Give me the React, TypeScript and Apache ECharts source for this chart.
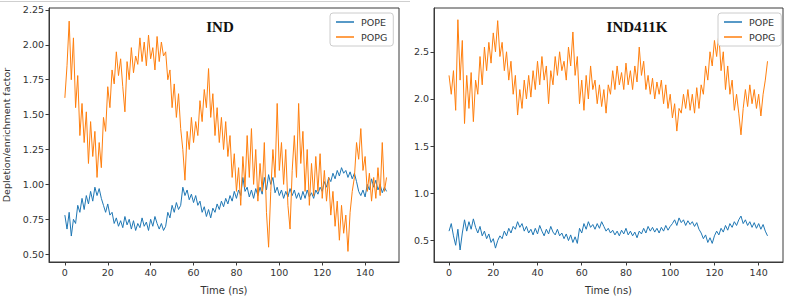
import React, { useEffect, useRef } from "react";
import * as echarts from "echarts";

// Time step 1 ns per sample (index = time in ns)
const panelTitles = ["IND", "IND411K"];
const seriesNames = ["POPE", "POPG"];
const xTicks = [0, 20, 40, 60, 80, 100, 120, 140];
const yTicksLeft = [0.5, 0.75, 1.0, 1.25, 1.5, 1.75, 2.0, 2.25];
const yTicksRight = [0.5, 1.0, 1.5, 2.0, 2.5];

const popeIND = [
  0.78, 0.68, 0.80, 0.63, 0.75, 0.72, 0.85, 0.80, 0.90, 0.82, 0.92, 0.86, 0.95, 0.88, 0.98, 0.92, 0.97, 0.90, 0.85, 0.80,
  0.86, 0.78, 0.80, 0.72, 0.76, 0.70, 0.74, 0.69, 0.77, 0.71, 0.75, 0.68, 0.74, 0.67, 0.72, 0.69, 0.76, 0.70, 0.73, 0.67,
  0.75, 0.70, 0.77, 0.72, 0.68, 0.72, 0.67, 0.70, 0.80, 0.76, 0.85, 0.80, 0.87, 0.82, 0.85, 0.98, 0.92, 0.96, 0.89, 0.93,
  0.87, 0.92, 0.85, 0.88, 0.80, 0.84, 0.77, 0.82, 0.76, 0.83, 0.80, 0.86, 0.82, 0.88, 0.84, 0.90, 0.86, 0.92, 0.88, 0.95,
  0.90, 0.96, 0.92, 1.05, 0.95, 0.98, 0.91, 0.96, 0.90, 0.97, 0.92, 0.98, 0.93, 1.05, 0.96, 1.07, 1.00, 1.05, 0.94, 0.98,
  0.92, 0.96, 0.90, 0.95, 0.91, 0.97, 0.92, 0.96, 0.90, 0.94, 0.89, 0.95, 0.90, 0.96, 0.91, 0.94, 0.90, 0.96, 0.93, 0.98,
  0.95, 1.02, 0.98, 1.05, 1.02, 1.08, 1.04, 1.10, 1.06, 1.12, 1.08, 1.10, 1.05, 1.09, 1.04, 1.08, 1.02, 0.95, 0.92, 0.96,
  0.91, 1.00, 0.96, 1.04, 0.98, 1.03, 0.96, 1.00, 0.94, 0.98, 0.95,
];

const popgIND = [
  1.62, 1.85, 2.17, 1.75, 2.05, 1.55, 1.78, 1.35, 1.58, 1.30, 1.52, 1.15, 1.45, 1.20, 1.38, 1.05, 1.30, 1.12, 1.48, 1.38,
  1.70, 1.55, 1.82, 1.72, 1.95, 1.78, 1.90, 1.70, 1.52, 1.88, 1.75, 1.98, 1.80, 1.92, 1.86, 2.05, 1.88, 2.02, 1.85, 2.07,
  1.90, 1.98, 1.82, 2.06, 1.88, 2.02, 1.92, 1.95, 1.75, 1.82, 1.55, 1.72, 1.48, 1.65, 1.40, 1.25, 1.03, 1.38, 1.25, 1.48,
  1.30, 1.45, 1.35, 1.60, 1.45, 1.68, 1.55, 1.83, 1.48, 1.65, 1.35, 1.55, 1.30, 1.48, 1.25, 1.45, 1.20, 1.35, 1.05, 1.22,
  0.95, 1.12, 0.85, 1.20, 0.98, 1.35, 1.05, 1.40, 1.00, 1.25, 0.88, 1.15, 0.95, 1.30, 0.80, 0.55, 0.95, 1.25, 1.05, 1.58,
  1.10, 1.30, 1.00, 1.25, 0.85, 0.68, 1.10, 1.35, 1.05, 1.58, 1.15, 1.38, 0.95, 1.25, 0.85, 1.15, 0.92, 1.20, 0.95, 1.22,
  0.90, 1.10, 0.88, 1.05, 0.78, 0.95, 0.70, 0.88, 0.60, 0.85, 0.65, 0.78, 0.52, 0.80, 0.95, 1.05, 1.30, 1.18, 1.40, 1.10,
  1.20, 0.95, 1.08, 0.88, 1.05, 0.90, 1.12, 0.92, 1.30, 0.95, 1.05,
];

const popeK = [
  0.60, 0.68, 0.55, 0.45, 0.62, 0.40, 0.58, 0.72, 0.60, 0.70, 0.62, 0.73, 0.64, 0.58, 0.65, 0.55, 0.60, 0.52, 0.57, 0.48,
  0.52, 0.42, 0.50, 0.55, 0.52, 0.60, 0.55, 0.63, 0.58, 0.65, 0.62, 0.70, 0.64, 0.68, 0.60, 0.65, 0.58, 0.62, 0.56, 0.63,
  0.57, 0.66, 0.60, 0.55, 0.62, 0.57, 0.65, 0.59, 0.56, 0.62, 0.55, 0.58, 0.52, 0.57, 0.50, 0.56, 0.48, 0.54, 0.47, 0.63,
  0.58, 0.68, 0.62, 0.70, 0.64, 0.67, 0.62, 0.68, 0.63, 0.70, 0.65, 0.60, 0.63, 0.58, 0.61, 0.56, 0.60, 0.55, 0.61, 0.57,
  0.63, 0.56, 0.60, 0.55, 0.59, 0.53, 0.60, 0.57, 0.63, 0.58, 0.65, 0.60, 0.64, 0.59, 0.63, 0.58, 0.64, 0.60, 0.66, 0.61,
  0.65, 0.68, 0.72, 0.66, 0.74, 0.69, 0.72, 0.66, 0.71, 0.67, 0.70, 0.65, 0.69, 0.62, 0.58, 0.52, 0.56, 0.48, 0.53, 0.47,
  0.55, 0.60, 0.56, 0.63, 0.59, 0.66, 0.61, 0.68, 0.64, 0.70, 0.66, 0.72, 0.76, 0.68, 0.72, 0.66, 0.70, 0.64, 0.69, 0.63,
  0.68, 0.62, 0.67, 0.60, 0.55,
];

const popgK = [
  2.25, 2.05, 2.30, 1.88, 2.84, 2.20, 2.62, 1.74, 2.25, 1.90, 2.28, 1.76, 2.20, 2.05, 2.45, 2.15, 2.55, 2.30, 2.60, 2.38,
  2.70, 2.50, 2.83, 2.45, 2.60, 2.30, 2.50, 2.20, 2.40, 2.05, 2.25, 1.83, 2.10, 1.90, 2.20, 2.00, 2.25, 2.02, 2.30, 2.10,
  2.40, 2.15, 2.45, 2.20, 2.35, 1.95, 2.30, 2.15, 2.45, 2.25, 2.50, 2.30, 2.40, 2.20, 2.55, 2.35, 2.71, 2.25, 2.45, 1.95,
  2.20, 1.88, 2.25, 2.00, 2.35, 2.10, 2.20, 1.95, 2.15, 1.92, 2.10, 1.85, 2.15, 2.05, 2.30, 2.10, 2.35, 2.15, 2.28, 2.10,
  2.38, 2.15, 2.30, 2.10, 2.35, 2.18, 2.55, 2.25, 2.40, 2.10, 2.25, 2.05, 2.22, 2.00, 2.18, 2.05, 2.20, 1.95, 2.15, 1.90,
  2.05, 1.80, 1.95, 1.66, 1.90, 1.85, 2.05, 1.90, 2.10, 1.88, 2.05, 1.85, 2.12, 1.90, 2.15, 2.05, 2.35, 2.20, 2.50, 2.35,
  2.62, 2.45, 2.69, 2.30, 2.50, 2.10, 2.35, 2.05, 2.20, 1.88, 2.05, 1.85, 1.62, 1.90, 2.10, 1.92, 2.15, 1.95, 2.10, 1.90,
  2.05, 1.82, 2.05, 2.20, 2.40,
];

const BLUE = "#1f77b4";
const ORANGE = "#ff7f0e";
const AXIS = "#3a3a3a";
const TEXT = "#333333";
const FONT = "DejaVu Sans";

const toPairs = (vals: number[]) => vals.map((v, i) => [i, v]);

function makeX(gridIndex: number, min: number, max: number) {
  return {
    type: "value",
    gridIndex,
    min,
    max,
    name: "Time (ns)",
    nameLocation: "middle",
    nameGap: 23,
    nameTextStyle: { color: TEXT, fontFamily: FONT, fontSize: 10 },
    splitLine: { show: false },
    axisLine: { show: true, onZero: false, lineStyle: { color: AXIS, width: 1 } },
    axisTick: { show: true, length: 3.5, customValues: xTicks, lineStyle: { color: AXIS } },
    axisLabel: {
      customValues: xTicks,
      color: TEXT,
      fontFamily: FONT,
      fontSize: 9.5,
      margin: 5,
    },
  };
}

function makeY(gridIndex: number, min: number, max: number, ticks: number[], digits: number, name: string) {
  return {
    type: "value",
    gridIndex,
    min,
    max,
    name,
    nameLocation: "middle",
    nameGap: 38,
    nameTextStyle: { color: TEXT, fontFamily: FONT, fontSize: 9.5 },
    splitLine: { show: false },
    axisLine: { show: true, onZero: false, lineStyle: { color: AXIS, width: 1 } },
    axisTick: { show: true, length: 3.5, customValues: ticks, lineStyle: { color: AXIS } },
    axisLabel: {
      customValues: ticks,
      color: TEXT,
      fontFamily: FONT,
      fontSize: 9.5,
      margin: 5,
      formatter: (v: number) => v.toFixed(digits),
    },
  };
}

function makeLegend(left: number) {
  return {
    orient: "vertical",
    left,
    top: 13,
    itemWidth: 18,
    itemHeight: 1.5,
    itemGap: 5,
    icon: "rect",
    padding: [4, 6, 4, 6],
    borderColor: "#cccccc",
    borderWidth: 1,
    borderRadius: 3,
    backgroundColor: "#ffffff",
    textStyle: { color: TEXT, fontFamily: FONT, fontSize: 9.5, padding: [0, 0, 0, 2] },
    data: seriesNames,
    selectedMode: false,
  };
}

function line(name: string, color: string, vals: number[], idx: number) {
  return {
    type: "line",
    name,
    xAxisIndex: idx,
    yAxisIndex: idx,
    data: toPairs(vals),
    showSymbol: false,
    symbol: "none",
    lineStyle: { color, width: 1 },
    itemStyle: { color },
    z: name === "POPG" ? 3 : 2,
  };
}

export default function App() {
  const ref = useRef<HTMLDivElement>(null);
  useEffect(() => {
    if (!ref.current) return;
    const chart = echarts.init(ref.current, undefined, { renderer: "svg" });
    chart.setOption({
      animation: false,
      backgroundColor: "#ffffff",
      title: [
        {
          text: panelTitles[0],
          left: 215,
          top: 14,
          textAlign: "center",
          textStyle: { fontFamily: "Liberation Serif", fontWeight: "bold", fontSize: 15, color: "#111" },
        },
        {
          text: panelTitles[1],
          left: 632,
          top: 14,
          textAlign: "center",
          textStyle: { fontFamily: "Liberation Serif", fontWeight: "bold", fontSize: 15, color: "#111" },
        },
      ],
      legend: [makeLegend(330), makeLegend(718)],
      grid: [
        { left: 48, top: 8, width: 351, height: 261, show: true, borderColor: AXIS, borderWidth: 1, backgroundColor: "transparent" },
        { left: 434, top: 8, width: 349, height: 261, show: true, borderColor: AXIS, borderWidth: 1, backgroundColor: "transparent" },
      ],
      xAxis: [makeX(0, -7.4, 155.8), makeX(1, -6.8, 151)],
      yAxis: [
        makeY(0, 0.444, 2.264, yTicksLeft, 2, "Depletion/enrichment factor"),
        makeY(1, 0.273, 2.964, yTicksRight, 1, ""),
      ],
      graphic: [
        { type: "line", shape: { x1: 0, y1: 1.5, x2: 410, y2: 1.5 }, style: { stroke: "#cfcfcf", lineWidth: 1 } },
      ],
      series: [
        line("POPE", BLUE, popeIND, 0),
        line("POPG", ORANGE, popgIND, 0),
        line("POPE", BLUE, popeK, 1),
        line("POPG", ORANGE, popgK, 1),
      ],
    });
    return () => chart.dispose();
  }, []);
  return (
    <div
      ref={ref}
      style={{ position: "absolute", left: 0, top: 0, width: 786, height: 300 }}
    />
  );
}
